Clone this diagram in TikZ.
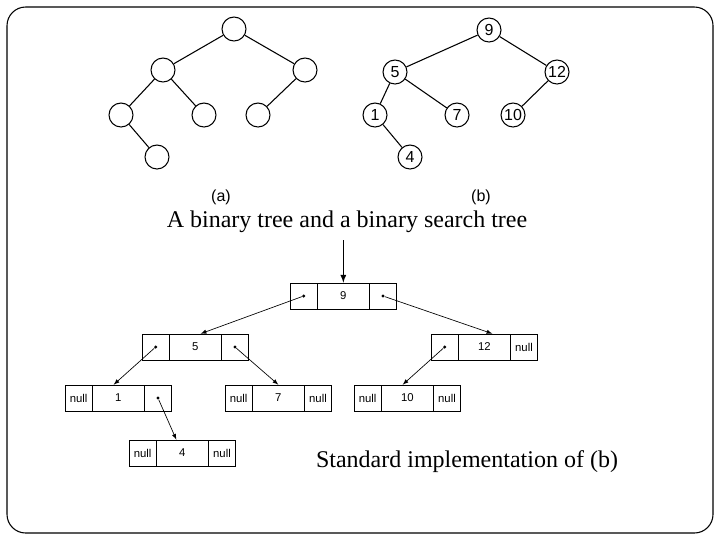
\documentclass[tikz,border=0pt]{standalone}
\usepackage{fontspec}
\setmainfont{Liberation Serif}
\newfontfamily\sfx{Liberation Sans}
\begin{document}
\begin{tikzpicture}[x=0.75pt,y=-0.75pt,
  cir/.style={circle,draw,line width=0.8pt,minimum size=18pt,inner sep=0pt,font=\sfx\fontsize{12}{14}\selectfont},
  cell/.style={draw,line width=0.5pt,minimum height=19.5pt,inner sep=0pt,font=\sfx\fontsize{8.5}{10}\selectfont},
  ptr/.style={-latex,line width=0.5pt},
  dot/.style={circle,fill,inner sep=0pt,minimum size=2.5pt}]
\useasboundingbox (0,0) rectangle (720,540);
\draw[line width=0.8pt,rounded corners=14pt] (7,7) rectangle (713,533);
% tree (a)
\node[cir] (a0) at (234,29) {};
\node[cir] (a1) at (163,70) {};
\node[cir] (a2) at (305,70) {};
\node[cir] (a3) at (121,115) {};
\node[cir] (a4) at (204,115) {};
\node[cir] (a5) at (258,115) {};
\node[cir] (a6) at (157,157) {};
\draw[line width=0.8pt] (a0)--(a1) (a0)--(a2) (a1)--(a3) (a1)--(a4) (a2)--(a5) (a3)--(a6);
% tree (b)
\node[cir] (b9) at (489,30) {9};
\node[cir] (b5) at (395,72) {5};
\node[cir] (b12) at (557,72) {12};
\node[cir] (b1) at (375,115) {1};
\node[cir] (b7) at (457,115) {7};
\node[cir] (b10) at (513,115) {10};
\node[cir] (b4) at (410,157) {4};
\draw[line width=0.8pt] (b9)--(b5) (b9)--(b12) (b5)--(b1) (b5)--(b7) (b12)--(b10) (b1)--(b4);
\node[font=\sfx\fontsize{12}{14}\selectfont] (la) at (221,197) {(a)};
\node[font=\sfx\fontsize{12}{14}\selectfont] (lb) at (481,197) {(b)};
\node[font=\fontsize{18}{21}\selectfont] (t1) at (347,222) {A binary tree and a binary search tree};
\foreach \n/\x/\y/\l/\m/\r in {n9/290/296/{}/9/{}, n5/142/347/{}/5/{}, n12/431/347/{}/12/null, n1/65/398/null/1/{}, n7/225/398/null/7/null, n10/354/398/null/10/null, n4/129/453/null/4/null}{
  \node[cell,minimum width=20pt,anchor=west] (\n L) at (\x,\y) {\l};
  \node[cell,minimum width=38.5pt,anchor=west] (\n M) at (\n L.east) {\m};
  \node[cell,minimum width=20pt,anchor=west] (\n R) at (\n M.east) {\r};
}
\coordinate (top) at (341,240);
\draw[-latex,line width=1pt] (n9M.north |- top) -- (n9M.north);
\node[dot] (d9l) at (n9L) {};
\node[dot] (d9r) at (n9R) {};
\node[dot] (d5l) at (n5L) {};
\node[dot] (d5r) at (n5R) {};
\node[dot] (d12l) at (n12L) {};
\node[dot] (d1r) at (n1R) {};
\draw[ptr] (d9l) -- ([xshift=4pt]n5M.north);
\draw[ptr] (d9r) -- ([xshift=6pt]n12M.north);
\draw[ptr] (d5l) -- ([xshift=-3.5pt]n1M.north);
\draw[ptr] (d5r) -- (n7M.north);
\draw[ptr] (d12l) -- ([xshift=-3.5pt]n10M.north);
\draw[ptr] (d1r) -- ([xshift=-4.5pt]n4M.north);
\node[font=\fontsize{18}{21}\selectfont] (t2) at (467,462) {Standard implementation of (b)};
\end{tikzpicture}
\end{document}
